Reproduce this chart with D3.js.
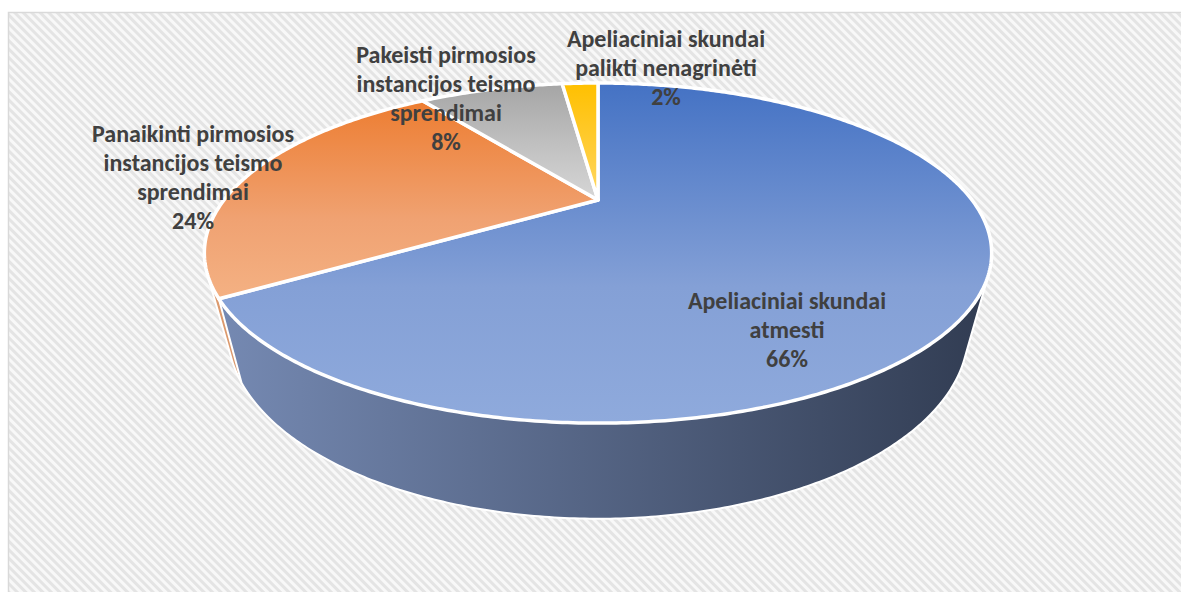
<!DOCTYPE html>
<html>
<head>
<meta charset="utf-8">
<script src="https://cdn.jsdelivr.net/npm/d3@7"></script>
<style>
  body { margin: 0; background: #fff; }
  text { font-family: Carlito, Calibri, Lato, sans-serif; font-weight: bold; fill: #404040; }
</style>
</head>
<body>
<svg id="chart" width="1181" height="592"></svg>
<script>
// data
var values = [66, 24, 8, 2];
var labelLines = [
  ["Apeliaciniai skundai", "atmesti"],
  ["Panaikinti pirmosios", "instancijos teismo", "sprendimai"],
  ["Pakeisti pirmosios", "instancijos teismo", "sprendimai"],
  ["Apeliaciniai skundai", "palikti nenagrinėti"]
];
var percentLabels = ["66%", "24%", "8%", "2%"];

// styling / layout
var topColors = [["#4472c4", "#84a0d6", "#8faadc"], ["#ed7d31", "#f0a272", "#f4b183"],
                 ["#a5a5a5", "#c4c4c4", "#d6d6d6"], ["#ffc000", "#ffcd3a", "#ffd966"]];
var wallColors = [["#7589b2", "#313c52"], ["#dc9a6e", "#b0643a"], ["#8a8a8a", "#6a6a6a"], ["#d9a300", "#b08400"]];
var labelPos = [[787, 309], [193, 142], [446, 63], [666, 47]];

var cx = 598, cy = 200;     // pie centre on screen
var kR = 374, kRs = 153.5;  // horizontal / vertical radius
var q = 0.312;              // perspective strength
var depth = 75;             // wall height
var shrink = 0.94;          // bottom rim is further away

var svg = d3.select("#chart");
var defs = svg.append("defs");

var pat = defs.append("pattern").attr("id", "hatch")
  .attr("patternUnits", "userSpaceOnUse").attr("width", 6).attr("height", 6)
  .attr("patternTransform", "rotate(-45)");
pat.append("rect").attr("width", 6).attr("height", 6).attr("fill", "#f8f8f8");
pat.append("rect").attr("width", 3).attr("height", 6).attr("fill", "#e4e4e4");

svg.append("rect").attr("x", 8.5).attr("y", 12.5).attr("width", 1200).attr("height", 600)
  .attr("fill", "url(#hatch)").attr("stroke", "#d9d9d9").attr("stroke-width", 1.5);

// gradients
topColors.forEach(function(c, i) {
  var g = defs.append("linearGradient").attr("id", "top" + i)
    .attr("x1", 0).attr("y1", 0).attr("x2", 0).attr("y2", 1);
  g.append("stop").attr("offset", 0).attr("stop-color", c[0]);
  g.append("stop").attr("offset", 0.6).attr("stop-color", c[1]);
  g.append("stop").attr("offset", 1).attr("stop-color", c[2]);
});
wallColors.forEach(function(c, i) {
  var g = defs.append("linearGradient").attr("id", "wall" + i)
    .attr("gradientUnits", "userSpaceOnUse")
    .attr("x1", 220).attr("y1", 0).attr("x2", 990).attr("y2", 0);
  g.append("stop").attr("offset", 0).attr("stop-color", c[0]);
  g.append("stop").attr("offset", 1).attr("stop-color", c[1]);
});

// perspective projection of a point on the top disc (bottom=false) or bottom disc
function proj(a, bottom) {
  var x = Math.sin(a), t = -Math.cos(a);
  var f = 1 / (1 - q * t);
  var s = bottom ? shrink : 1;
  return [cx + kR * x * f * s, cy + kRs * t * f * s + (bottom ? depth * f : 0)];
}
function arcPts(a0, a1, bottom) {
  var n = Math.max(2, Math.ceil((a1 - a0) / 0.01));
  var pts = [];
  for (var k = 0; k <= n; k++) pts.push(proj(a0 + (a1 - a0) * k / n, bottom));
  return pts;
}

var pie = d3.pie().sort(null).value(function(d) { return d; });
var arcs = pie(values);
var line = d3.line();

// walls, back to front
var walls = arcs.map(function(d, i) {
  var maxT = -2;
  for (var a = d.startAngle; a <= d.endAngle; a += 0.01) maxT = Math.max(maxT, -Math.cos(a));
  return { d: d, i: i, maxT: maxT };
}).sort(function(a, b) { return a.maxT - b.maxT; });

svg.append("g").selectAll("path").data(walls).join("path")
  .attr("d", function(w) {
    var pts = arcPts(w.d.startAngle, w.d.endAngle, false)
      .concat(arcPts(w.d.startAngle, w.d.endAngle, true));
    return line(d3.polygonHull(pts)) + "Z";
  })
  .attr("fill", function(w) { return "url(#wall" + w.i + ")"; })
  .attr("stroke", "#fff").attr("stroke-width", 2).attr("stroke-linejoin", "round");

// top faces
svg.append("g").selectAll("path").data(arcs).join("path")
  .attr("d", function(d) {
    return line([[cx, cy]].concat(arcPts(d.startAngle, d.endAngle, false))) + "Z";
  })
  .attr("fill", function(d, i) { return "url(#top" + i + ")"; })
  .attr("stroke", "#fff").attr("stroke-width", 3.5).attr("stroke-linejoin", "round");

// labels
var lh = 29;
var lab = svg.append("g").selectAll("text").data(arcs).join("text")
  .attr("text-anchor", "middle")
  .attr("font-size", 24)
  .attr("x", function(d, i) { return labelPos[i][0]; })
  .attr("y", function(d, i) { return labelPos[i][1]; });
lab.each(function(d, i) {
  var t = d3.select(this);
  labelLines[i].concat([percentLabels[i]]).forEach(function(s, k) {
    t.append("tspan").attr("x", labelPos[i][0]).attr("y", labelPos[i][1] + k * lh).text(s);
  });
});
</script>
</body>
</html>
